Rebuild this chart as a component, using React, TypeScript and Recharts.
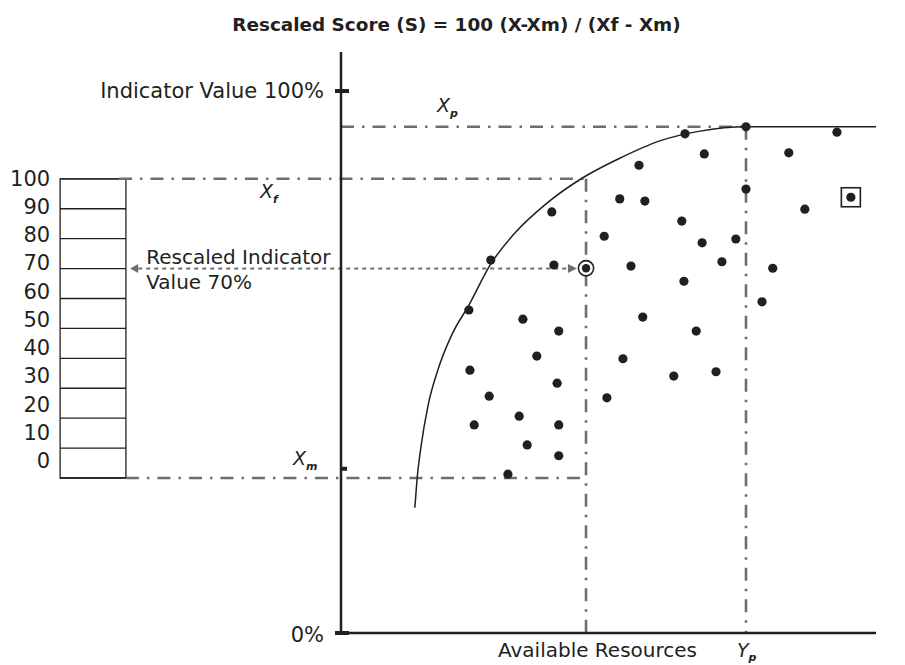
import React from 'react';
import {
  ComposedChart,
  XAxis,
  YAxis,
  Scatter,
  Line,
  ReferenceLine,
  ReferenceArea,
  ReferenceDot,
} from 'recharts';

const FONT = '"DejaVu Sans", "Noto Sans", sans-serif';
const INK = '#231f20';
const GUIDE = '#6d6e71';
const DASH_DOT = '13 8 2.5 8';

// Levels on the indicator-value axis (0 % .. 100 %)
const X_P = 93.4; // frontier plateau (Xp)
const X_F = 83.8; // Xf
const X_M = 28.6; // Xm
const Y_P = 75.7; // resources where the frontier is reached (Yp)
const X_SEL = 45.8; // resources of the highlighted unit
const RESCALED_VALUE = 70;

// Rescaled 0..100 scale drawn to the left of the value axis (resource units, left of 0)
const scaleTicks = [0, 10, 20, 30, 40, 50, 60, 70, 80, 90, 100];
const scaleLeft = -52.5;
const scaleRight = -40.2;
const xfStart = -41.5;
const arrowTipLeft = -39.4;
const arrowLineStart = -37.9;
const arrowLineEnd = 42.4;
const arrowTipRight = 44.1;

const valueAxisTicks = [0, 30.3, 100];
const resourceTicks = [Y_P];

// Units (resources, indicator value)
const units = [
  { x: 64.3, y: 92.1 }, { x: 67.9, y: 88.4 }, { x: 55.7, y: 86.3 }, { x: 92.7, y: 92.4 },
  { x: 83.7, y: 88.6 }, { x: 75.7, y: 93.4 }, { x: 75.7, y: 81.9 }, { x: 86.7, y: 78.2 },
  { x: 39.4, y: 77.7 }, { x: 52.1, y: 80.1 }, { x: 56.8, y: 79.7 }, { x: 63.7, y: 76.0 },
  { x: 49.2, y: 73.2 }, { x: 67.5, y: 72.0 }, { x: 73.8, y: 72.7 }, { x: 28.0, y: 68.8 },
  { x: 39.8, y: 67.9 }, { x: 54.2, y: 67.7 }, { x: 71.2, y: 68.5 }, { x: 64.1, y: 64.9 },
  { x: 80.7, y: 67.3 }, { x: 78.7, y: 61.1 }, { x: 23.9, y: 59.6 }, { x: 34.0, y: 57.9 },
  { x: 40.7, y: 55.7 }, { x: 56.4, y: 58.3 }, { x: 66.4, y: 55.7 }, { x: 36.6, y: 51.1 },
  { x: 24.1, y: 48.5 }, { x: 40.4, y: 46.1 }, { x: 52.7, y: 50.6 }, { x: 62.2, y: 47.4 },
  { x: 70.1, y: 48.2 }, { x: 27.7, y: 43.7 }, { x: 49.7, y: 43.4 }, { x: 33.3, y: 40.0 },
  { x: 24.9, y: 38.4 }, { x: 40.7, y: 38.4 }, { x: 34.8, y: 34.7 }, { x: 40.7, y: 32.7 },
  { x: 31.2, y: 29.3 },
];
const selectedUnit = [{ x: X_SEL, y: 67.3 }];
const outlierUnit = [{ x: 95.3, y: 80.4 }];

// Production-possibility frontier
const frontier = [
  { x: 13.8, y: 23.1 }, { x: 14.2, y: 28.2 }, { x: 15.0, y: 34.7 }, { x: 16.3, y: 42.1 },
  { x: 18.1, y: 48.5 }, { x: 20.7, y: 55.0 }, { x: 23.9, y: 60.5 }, { x: 28.0, y: 68.1 },
  { x: 32.5, y: 73.8 }, { x: 38.1, y: 79.0 }, { x: 45.2, y: 84.0 }, { x: 52.1, y: 87.6 },
  { x: 59.6, y: 90.8 }, { x: 67.1, y: 92.6 }, { x: 75.7, y: 93.4 }, { x: 100, y: 93.4 },
];

// Rescaled score S = 100 (X - Xm) / (Xf - Xm)  ->  X = Xm + S (Xf - Xm) / 100
const toValue = (s: number) => X_M + (s * (X_F - X_M)) / 100;
const ARROW_Y = toValue(RESCALED_VALUE);

const UnitDot = (p: any) => <circle cx={p.cx} cy={p.cy} r={4.6} fill={INK} />;
const RingDot = (p: any) => (
  <g>
    <circle cx={p.cx} cy={p.cy} r={7.6} fill="#fff" stroke={INK} strokeWidth={1.6} />
    <circle cx={p.cx} cy={p.cy} r={4.2} fill={INK} />
  </g>
);
const BoxDot = (p: any) => (
  <g>
    <rect x={p.cx - 9.5} y={p.cy - 9.5} width={19} height={19} fill="#fff" stroke={INK} strokeWidth={1.6} />
    <circle cx={p.cx} cy={p.cy} r={4.6} fill={INK} />
  </g>
);
const ArrowLeft = (p: any) => (
  <polygon points={`${p.cx},${p.cy} ${p.cx + 8},${p.cy - 4.5} ${p.cx + 8},${p.cy + 4.5}`} fill={GUIDE} />
);
const ArrowRight = (p: any) => (
  <polygon points={`${p.cx},${p.cy} ${p.cx - 9},${p.cy - 4.5} ${p.cx - 9},${p.cy + 4.5}`} fill={GUIDE} />
);

const ValueTick = (p: any) => {
  const { x, y, payload } = p;
  const v = payload.value;
  if (v === 100 || v === 0) {
    return (
      <g>
        <rect x={x - 6} y={y - 2} width={14} height={4} fill={INK} />
        <text x={x - 17} y={v === 0 ? y + 2 : y} textAnchor="end" dominantBaseline="central" fontSize={21} fill={INK}>
          {v === 100 ? 'Indicator Value 100%' : '0%'}
        </text>
      </g>
    );
  }
  return <rect x={x} y={y - 2} width={6} height={4} fill={INK} />;
};

const ResourceTick = (p: any) => {
  const { x, y } = p;
  return (
    <text x={x - 9} y={y + 24} fontSize={19} fontStyle="italic" fill={INK}>
      Y
      <tspan fontSize={11} fontWeight="bold" dy={4}>p</tspan>
    </text>
  );
};

const symbolLabel = (main: string, sub: string, dx: number, dy: number) => (p: any) => {
  const vb = p.viewBox || { x: 0, y: 0 };
  return (
    <text x={vb.x + dx} y={vb.y + dy} fontSize={19} fontStyle="italic" fill={INK}>
      {main}
      <tspan fontSize={11} fontWeight="bold" dy={5}>{sub}</tspan>
    </text>
  );
};

// scale numbers are set a little tighter than the rows (28px vs ~30px)
const scaleLabel = (value: number) => (p: any) => {
  const vb = p.viewBox || { x: 0, y: 0 };
  const shift = -(100 - value) * 0.17;
  return (
    <text x={vb.x - 10} y={vb.y + shift} textAnchor="end" dominantBaseline="central" fontSize={21} fill={INK}>
      {value}
    </text>
  );
};

const arrowLabel = (p: any) => {
  const vb = p.viewBox || { x: 0, y: 0 };
  return (
    <text fontSize={20} fill={INK}>
      <tspan x={vb.x + 8} y={vb.y - 4.5}>Rescaled Indicator</tspan>
      <tspan x={vb.x + 8} y={vb.y + 20}>Value 70%</tspan>
    </text>
  );
};

const axisTitle = (p: any) => {
  const vb = p.viewBox || { x: 0, y: 0, width: 0, height: 0 };
  return (
    <text x={vb.x + vb.width / 2 - 11} y={vb.y + 17} textAnchor="middle" dominantBaseline="central" fontSize={20} fill={INK}>
      Available Resources
    </text>
  );
};

export default function App() {
  return (
    <div style={{ position: 'relative', width: 889, height: 657, fontFamily: FONT }}>
      <div
        style={{
          position: 'absolute',
          top: 7,
          left: 4,
          width: 889,
          textAlign: 'center',
          fontWeight: 'bold',
          fontSize: 18.4,
          lineHeight: '20px',
          color: INK,
          zIndex: 2,
        }}
      >
        Rescaled Score (S) = 100 (X-Xm) / (Xf - Xm)
      </div>
      <ComposedChart width={889} height={657} margin={{ top: 44, right: 21, left: 53, bottom: 0 }}>
        <XAxis
          type="number"
          dataKey="x"
          domain={[0, 100]}
          ticks={resourceTicks}
          interval={0}
          tick={ResourceTick}
          tickLine={false}
          tickSize={0}
          tickMargin={0}
          axisLine={{ stroke: INK, strokeWidth: 2.5 }}
          height={32}
          label={{ content: axisTitle }}
        />
        <YAxis
          type="number"
          dataKey="y"
          domain={[0, 107.2]}
          allowDataOverflow
          ticks={valueAxisTicks}
          interval={0}
          tick={ValueTick}
          tickLine={false}
          tickSize={0}
          tickMargin={0}
          axisLine={{ stroke: INK, strokeWidth: 2.5 }}
          width={280}
        />

        {/* rescaled scale column */}
        <ReferenceArea
          x1={scaleLeft}
          x2={scaleRight}
          y1={toValue(0)}
          y2={toValue(100)}
          fill="#fff"
          fillOpacity={1}
          stroke={INK}
          strokeWidth={1.3}
          ifOverflow="visible"
        />
        {scaleTicks.map((s) => (
          <ReferenceLine
            key={`s${s}`}
            segment={[{ x: scaleLeft, y: toValue(s) }, { x: scaleRight, y: toValue(s) }]}
            stroke={INK}
            strokeWidth={1.3}
            ifOverflow="visible"
            label={scaleLabel(s)}
          />
        ))}

        {/* dash-dot guides */}
        <ReferenceLine
          segment={[{ x: 0, y: X_P }, { x: Y_P, y: X_P }]}
          stroke={GUIDE}
          strokeWidth={2.6}
          strokeDasharray={DASH_DOT}
          ifOverflow="visible"
          label={symbolLabel('X', 'p', 96, -15)}
        />
        <ReferenceLine
          segment={[{ x: xfStart, y: X_F }, { x: X_SEL, y: X_F }]}
          stroke={GUIDE}
          strokeWidth={2.6}
          strokeDasharray={DASH_DOT}
          ifOverflow="visible"
          label={symbolLabel('X', 'f', 141, 19)}
        />
        <ReferenceLine
          segment={[{ x: scaleRight, y: X_M }, { x: X_SEL, y: X_M }]}
          stroke={GUIDE}
          strokeWidth={2.6}
          strokeDasharray={DASH_DOT}
          ifOverflow="visible"
          label={symbolLabel('X', 'm', 167, -13)}
        />
        <ReferenceLine
          segment={[{ x: X_SEL, y: X_F }, { x: X_SEL, y: 0 }]}
          stroke={GUIDE}
          strokeWidth={2.6}
          strokeDasharray={DASH_DOT}
          ifOverflow="visible"
        />
        <ReferenceLine
          segment={[{ x: Y_P, y: X_P }, { x: Y_P, y: 0 }]}
          stroke={GUIDE}
          strokeWidth={2.6}
          strokeDasharray={DASH_DOT}
          ifOverflow="visible"
        />

        {/* dotted arrow */}
        <ReferenceLine
          segment={[{ x: arrowLineStart, y: ARROW_Y }, { x: arrowLineEnd, y: ARROW_Y }]}
          stroke={GUIDE}
          strokeWidth={2}
          strokeDasharray="4 4"
          ifOverflow="visible"
          label={arrowLabel}
        />
        <ReferenceDot x={arrowTipLeft} y={ARROW_Y} r={4} ifOverflow="visible" shape={ArrowLeft} />
        <ReferenceDot x={arrowTipRight} y={ARROW_Y} r={4} ifOverflow="visible" shape={ArrowRight} />

        <Line
          data={frontier}
          dataKey="y"
          type="monotone"
          stroke={INK}
          strokeWidth={1.5}
          dot={false}
          activeDot={false}
          isAnimationActive={false}
        />
        <Scatter data={units} dataKey="y" shape={UnitDot} isAnimationActive={false} />
        <Scatter data={selectedUnit} dataKey="y" shape={RingDot} isAnimationActive={false} />
        <Scatter data={outlierUnit} dataKey="y" shape={BoxDot} isAnimationActive={false} />
      </ComposedChart>
    </div>
  );
}
